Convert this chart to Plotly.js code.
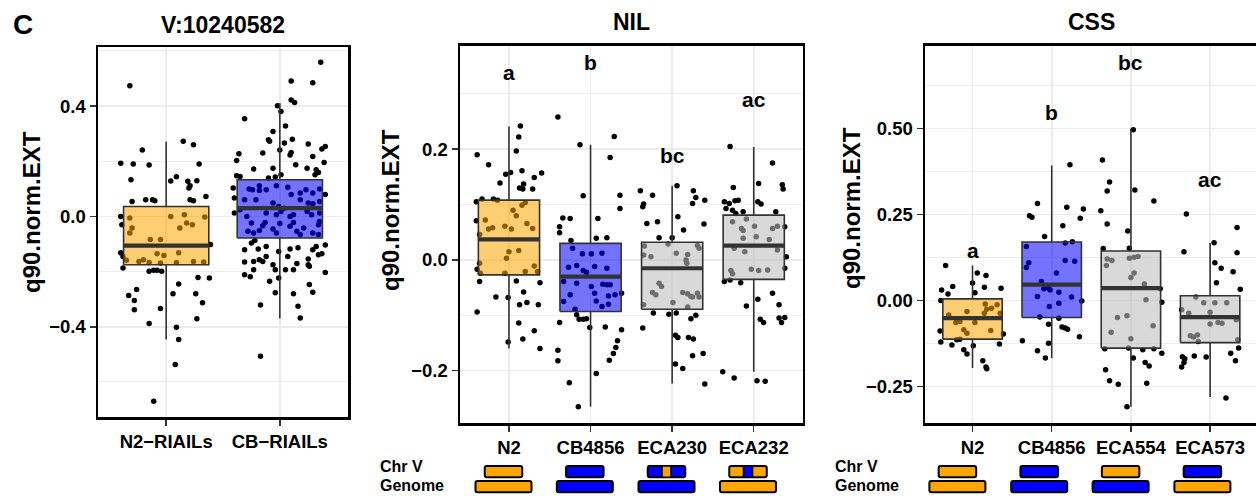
<!DOCTYPE html>
<html><head><meta charset="utf-8">
<script src="https://cdn.plot.ly/plotly-3.0.1.min.js"></script>
<style>html,body{margin:0;padding:0;background:#fff}#chart{width:1256px;height:499px}</style>
</head><body><div id="chart"></div>
<script>
// ---------------- DATA ----------------
// Panel 1: V:10240582
const p1Categories = ['N2\u2212RIAILs', 'CB\u2212RIAILs'];
const p1Genotype = ['N2', 'CB4856'];
const p1Q1 = [-0.175, -0.078];
const p1Median = [-0.106, 0.030];
const p1Q3 = [0.036, 0.133];
const p1Lower = [-0.446, -0.370];
const p1Upper = [0.271, 0.410];
const p1N2Jitter = [-0.32,-0.21,-0.40,-0.29,-0.15,-0.31,0.15,0.24,0.29,0.04,0.09,0.19,0.21,0.20,0.27,0.35,-0.30,-0.18,-0.10,-0.12,0.21,0.24,-0.40,-0.32,0.04,0.16,0.34,-0.39,-0.30,0.12,0.18,0.23,-0.32,-0.14,-0.05,0.39,-0.40,-0.38,-0.08,-0.02,0.11,-0.35,-0.24,-0.20,-0.15,-0.05,0.09,0.24,0.33,-0.38,-0.15,-0.11,-0.08,-0.04,0.28,0.38,0.11,-0.33,-0.26,0.06,0.26,-0.28,-0.28,-0.15,-0.05,0.32,0.27,0.09,0.11,0.08,-0.11];
const p1N2Values = [0.474,0.241,0.193,0.190,0.186,0.133,0.272,0.260,0.190,0.128,0.144,0.127,0.111,0.103,0.129,0.072,0.054,0.060,0.057,0.060,0.060,0.057,0.000,-0.006,0.000,0.006,-0.002,-0.030,-0.042,-0.042,-0.024,-0.030,-0.060,-0.084,-0.084,-0.102,-0.132,-0.145,-0.135,-0.142,-0.132,-0.159,-0.163,-0.157,-0.167,-0.169,-0.167,-0.163,-0.165,-0.187,-0.199,-0.195,-0.195,-0.199,-0.221,-0.223,-0.245,-0.287,-0.265,-0.280,-0.280,-0.305,-0.338,-0.388,-0.334,-0.313,-0.371,-0.402,-0.446,-0.537,-0.670];
const p1CBJitter = [0.36,0.10,0.29,0.10,0.13,-0.02,0.01,-0.31,0.05,-0.06,-0.10,-0.09,0.04,0.00,0.11,0.25,0.37,0.40,-0.15,-0.36,-0.38,0.09,0.10,0.29,0.14,0.39,-0.23,-0.06,0.24,0.32,0.34,0.31,-0.38,-0.35,-0.10,-0.04,0.01,-0.41,-0.40,-0.27,-0.24,-0.18,-0.18,-0.12,-0.03,0.07,0.10,0.18,0.23,0.29,0.35,0.40,-0.31,-0.21,-0.06,-0.01,0.04,0.18,0.25,0.29,0.35,-0.40,-0.35,-0.29,-0.12,-0.03,0.01,0.09,0.12,0.24,0.28,0.35,-0.25,-0.15,-0.13,0.00,0.09,0.12,0.21,0.34,0.35,-0.28,-0.23,-0.18,-0.06,-0.03,0.15,0.18,0.29,0.34,-0.25,-0.22,-0.31,-0.19,-0.12,-0.01,0.09,0.16,0.29,0.32,0.40,-0.12,-0.18,0.07,0.25,0.34,0.37,-0.31,-0.23,-0.15,-0.06,0.15,0.25,0.26,-0.23,-0.04,0.05,0.12,0.40,-0.31,-0.26,-0.09,-0.01,0.26,0.29,0.12,-0.04,-0.17,0.16,0.18,-0.17];
const p1CBValues = [0.559,0.491,0.484,0.422,0.413,0.401,0.380,0.354,0.328,0.308,0.278,0.272,0.266,0.241,0.280,0.262,0.244,0.253,0.230,0.227,0.203,0.223,0.232,0.217,0.187,0.195,0.172,0.175,0.175,0.169,0.159,0.151,0.147,0.145,0.139,0.143,0.151,0.103,0.067,0.099,0.097,0.111,0.094,0.097,0.111,0.106,0.079,0.085,0.097,0.085,0.099,0.079,0.060,0.060,0.049,0.036,0.030,0.060,0.049,0.046,0.054,0.012,0.024,0.000,0.012,0.006,0.018,0.000,0.006,0.018,0.006,0.012,-0.024,-0.034,-0.022,-0.026,-0.036,-0.022,-0.042,-0.030,-0.018,-0.054,-0.060,-0.051,-0.046,-0.060,-0.054,-0.066,-0.060,-0.066,-0.096,-0.087,-0.121,-0.118,-0.109,-0.127,-0.118,-0.114,-0.121,-0.109,-0.104,-0.145,-0.157,-0.145,-0.154,-0.139,-0.135,-0.165,-0.163,-0.163,-0.175,-0.171,-0.175,-0.181,-0.193,-0.193,-0.193,-0.193,-0.203,-0.211,-0.219,-0.235,-0.223,-0.247,-0.275,-0.280,-0.277,-0.321,-0.326,-0.368,-0.507];

// Panel 2: NIL
const nilCategories = ['N2', 'CB4856', 'ECA230', 'ECA232'];
const nilGenotype = ['N2', 'CB4856', 'NIL', 'NIL'];
const nilQ1 = [-0.027, -0.093, -0.089, -0.035];
const nilMedian = [0.037, -0.030, -0.015, 0.026];
const nilQ3 = [0.108, 0.030, 0.032, 0.081];
const nilLower = [-0.160, -0.265, -0.223, -0.202];
const nilUpper = [0.241, 0.208, 0.134, 0.204];
const nilLetters = ['a', 'b', 'bc', 'ac'];
const nilLetterY = [0.338, 0.357, 0.188, 0.289];
const nilChrBase = ['N2', 'CB4856', 'CB4856', 'N2'];
const nilChrIntrogression = [null, null, 'N2', 'CB4856'];
const nilGenome = ['N2', 'CB4856', 'CB4856', 'N2'];
const nilN2Jitter = [-0.39,-0.25,-0.11,-0.04,0.02,0.09,0.12,0.14,0.16,0.18,0.13,0.17,0.29,0.31,0.40,-0.40,-0.33,-0.19,-0.14,0.16,0.20,0.05,0.09,-0.40,-0.29,-0.20,-0.25,-0.05,0.03,0.22,0.29,-0.36,0.00,0.12,-0.36,-0.03,0.31,-0.39,-0.35,-0.05,0.20,0.35,-0.36,0.09,0.38,0.18,-0.16,-0.01,0.13,0.22,0.36,-0.39,0.12,0.31,0.17,-0.01,0.38];
const nilN2Values = [0.190,0.172,0.139,0.155,0.158,0.197,0.222,0.242,0.161,0.137,0.130,0.128,0.128,0.149,0.157,0.105,0.110,0.110,0.108,0.099,0.104,0.090,0.080,0.071,0.072,0.058,0.056,0.061,0.056,0.066,0.057,0.046,0.015,0.017,-0.006,0.003,-0.011,-0.017,-0.024,-0.024,-0.021,-0.021,-0.039,-0.038,-0.041,-0.058,-0.067,-0.068,-0.081,-0.077,-0.081,-0.094,-0.114,-0.128,-0.143,-0.148,-0.160];
const nilCBJitter = [-0.40,-0.13,0.29,0.24,-0.09,0.36,0.36,-0.34,-0.25,0.09,-0.38,-0.38,-0.24,0.07,0.20,-0.22,-0.10,0.01,0.14,-0.27,-0.17,-0.09,-0.05,0.05,0.20,-0.33,-0.17,0.01,0.15,0.20,0.24,0.38,-0.25,0.05,0.22,0.30,-0.33,-0.19,0.07,0.22,0.14,-0.17,-0.14,-0.09,-0.05,-0.38,-0.01,0.18,0.38,0.33,0.31,0.28,0.23,-0.40,-0.40,0.07,-0.26,-0.15];
const nilCBValues = [0.258,0.208,0.223,0.185,0.116,0.117,0.093,0.076,0.075,0.075,0.060,0.049,0.035,0.039,0.040,0.021,0.011,0.011,0.012,-0.013,-0.010,-0.019,-0.022,-0.012,-0.015,-0.039,-0.042,-0.048,-0.044,-0.045,-0.045,-0.060,-0.063,-0.060,-0.065,-0.063,-0.075,-0.089,-0.074,-0.080,-0.084,-0.099,-0.107,-0.107,-0.106,-0.113,-0.122,-0.121,-0.126,-0.146,-0.158,-0.169,-0.181,-0.163,-0.182,-0.205,-0.222,-0.265];
const nilECA230Jitter = [0.06,-0.39,-0.24,0.26,0.29,0.40,0.25,-0.35,-0.36,0.07,-0.31,-0.18,0.39,0.14,-0.16,0.00,-0.34,-0.05,0.05,0.19,0.31,0.33,-0.35,-0.26,0.17,0.18,-0.16,-0.13,-0.24,-0.20,0.13,0.19,0.23,0.31,0.25,0.01,-0.35,0.33,0.19,-0.23,-0.04,0.05,0.23,0.29,-0.36,0.04,0.07,0.20,0.26,0.25,0.38,0.04,0.13,0.40];
const nilECA230Values = [0.134,0.125,0.117,0.125,0.113,0.108,0.102,0.101,0.096,0.078,0.066,0.069,0.065,0.054,0.040,0.040,0.025,0.029,0.012,0.010,0.026,0.021,0.009,0.006,0.000,-0.006,-0.042,-0.048,-0.059,-0.063,-0.059,-0.061,-0.066,-0.060,-0.067,-0.077,-0.081,-0.067,-0.085,-0.096,-0.098,-0.096,-0.106,-0.100,-0.123,-0.136,-0.140,-0.140,-0.143,-0.173,-0.169,-0.188,-0.196,-0.224];
const nilECA232Jitter = [-0.29,-0.25,0.06,0.23,0.35,0.36,-0.36,-0.30,-0.23,-0.19,0.05,0.09,-0.34,-0.26,-0.22,-0.13,0.27,-0.26,-0.09,-0.15,-0.13,0.01,0.23,0.29,0.38,-0.13,0.03,0.19,-0.24,-0.11,0.29,0.40,-0.28,-0.26,-0.03,0.06,0.17,0.38,-0.36,-0.29,-0.16,0.23,0.05,-0.09,0.31,0.38,0.08,0.12,0.31,0.34,-0.38,-0.24,0.04,0.14];
const nilECA232Values = [0.205,0.131,0.138,0.175,0.136,0.128,0.105,0.102,0.107,0.108,0.105,0.101,0.093,0.090,0.084,0.087,0.087,0.069,0.074,0.057,0.053,0.061,0.057,0.061,0.060,0.039,0.042,0.037,0.021,0.015,0.018,0.006,-0.019,-0.025,-0.017,-0.019,-0.018,-0.015,-0.039,-0.036,-0.041,-0.060,-0.071,-0.083,-0.081,-0.104,-0.107,-0.113,-0.105,-0.113,-0.202,-0.213,-0.218,-0.219];

// Panel 3: CSS
const cssCategories = ['N2', 'CB4856', 'ECA554', 'ECA573'];
const cssGenotype = ['N2', 'CB4856', 'CSS', 'CSS'];
const cssQ1 = [-0.112, -0.049, -0.138, -0.122];
const cssMedian = [-0.051, 0.046, 0.036, -0.048];
const cssQ3 = [0.005, 0.170, 0.144, 0.014];
const cssLower = [-0.196, -0.167, -0.308, -0.280];
const cssUpper = [0.102, 0.392, 0.498, 0.167];
const cssLetters = ['a', 'b', 'bc', 'ac'];
const cssLetterY = [0.144, 0.545, 0.690, 0.351];
const cssChr = ['N2', 'CB4856', 'N2', 'CB4856'];
const cssGenome = ['N2', 'CB4856', 'CB4856', 'N2'];
const cssN2Jitter = [-0.34,0.06,0.17,-0.39,-0.31,-0.25,0.00,0.03,0.15,0.36,-0.40,-0.07,0.16,0.18,0.15,0.24,0.31,0.35,-0.30,-0.21,-0.16,0.03,-0.41,-0.11,-0.07,0.23,-0.40,-0.26,-0.20,-0.16,0.34,0.39,0.01,-0.11,-0.07,0.13,0.17,0.18];
const cssN2Values = [0.102,0.080,0.073,0.031,0.019,0.041,0.051,0.023,0.039,0.036,0.000,-0.032,-0.010,-0.025,-0.037,-0.022,-0.012,-0.037,-0.042,-0.064,-0.061,-0.064,-0.088,-0.085,-0.095,-0.087,-0.120,-0.129,-0.114,-0.112,-0.126,-0.097,-0.131,-0.143,-0.155,-0.175,-0.193,-0.198];
const cssCBJitter = [0.23,-0.18,-0.28,-0.25,0.19,0.40,0.36,0.14,-0.09,0.26,-0.32,-0.29,-0.32,0.17,0.17,0.29,0.06,-0.13,-0.10,-0.04,0.09,-0.18,0.25,-0.02,0.38,-0.03,0.09,-0.15,0.09,-0.04,0.13,0.17,0.20,-0.37,-0.04,0.35,-0.18,-0.08];
const cssCBValues = [0.394,0.282,0.246,0.242,0.271,0.266,0.239,0.217,0.186,0.171,0.157,0.110,0.096,0.167,0.116,0.114,0.080,0.055,0.034,0.036,0.024,0.012,0.010,0.031,-0.001,-0.017,-0.008,-0.048,-0.051,-0.069,-0.077,-0.080,-0.083,-0.117,-0.124,-0.105,-0.146,-0.167];
const cssECA554Jitter = [0.03,-0.36,-0.27,-0.30,0.05,0.29,-0.38,-0.30,-0.04,-0.35,-0.02,-0.30,-0.24,-0.02,0.04,0.09,-0.31,0.04,0.00,0.17,0.37,0.19,0.39,-0.17,-0.05,0.28,-0.25,0.00,-0.33,-0.03,0.15,0.29,0.39,0.03,0.18,0.23,-0.32,-0.27,-0.16,0.20,-0.05];
const cssECA554Values = [0.496,0.408,0.344,0.318,0.321,0.289,0.261,0.222,0.202,0.151,0.152,0.121,0.116,0.123,0.126,0.128,0.102,0.080,0.067,0.048,0.034,0.002,-0.005,-0.049,-0.044,-0.073,-0.092,-0.111,-0.140,-0.138,-0.143,-0.140,-0.153,-0.167,-0.180,-0.190,-0.201,-0.233,-0.243,-0.240,-0.308];
const cssECA573Jitter = [-0.30,-0.33,0.05,0.06,0.14,0.34,0.34,0.29,0.08,0.38,-0.36,-0.27,-0.18,-0.08,0.00,0.06,0.21,0.33,0.35,-0.16,-0.25,0.00,0.10,0.15,-0.21,-0.15,-0.05,-0.35,-0.32,-0.20,-0.36,-0.33,0.26,0.36,0.32,0.20];
const cssECA573Values = [0.251,0.142,0.168,0.110,0.094,0.212,0.139,0.084,0.052,0.033,-0.027,-0.037,0.010,-0.006,-0.034,-0.006,-0.006,-0.056,-0.114,-0.100,-0.102,-0.068,-0.064,-0.066,-0.106,-0.119,-0.164,-0.163,-0.169,-0.161,-0.193,-0.180,-0.153,-0.138,-0.175,-0.283];

// ---------------- STYLE / LAYOUT ----------------
const W = 1256, H = 499;
const FONT = 'Liberation Sans, Arial, Helvetica, sans-serif';
const px = x => x / W;
const py = y => 1 - y / H;
const FILL = {N2: 'rgba(255,165,0,0.55)', CB4856: 'rgba(0,0,255,0.55)', NIL: 'rgba(190,190,190,0.58)', CSS: 'rgba(190,190,190,0.58)'};
const SOLID = {N2: '#FFA500', CB4856: '#0000FF'};
const BOX_HALF = 0.375;

function panelTraces(jits, vals, q1, med, q3, lo, hi, genos, xa, ya) {
  const traces = [];
  const x = [], y = [];
  jits.forEach((arr, g) => arr.forEach((j, k) => { x.push(g + 1 + j); y.push(vals[g][k]); }));
  traces.push({type: 'scatter', mode: 'markers', x, y, xaxis: xa, yaxis: ya,
    marker: {size: 5.5, color: 'black'}, hoverinfo: 'skip', showlegend: false});
  const wx = [], wy = [];
  q1.forEach((_, i) => { const c = i + 1; wx.push(c, c, null, c, c, null); wy.push(q3[i], hi[i], null, q1[i], lo[i], null); });
  traces.push({type: 'scatter', mode: 'lines', x: wx, y: wy, xaxis: xa, yaxis: ya,
    line: {color: '#333333', width: 1.6}, hoverinfo: 'skip', showlegend: false});
  q1.forEach((_, i) => {
    const c = i + 1;
    traces.push({type: 'scatter', mode: 'lines', xaxis: xa, yaxis: ya,
      x: [c - BOX_HALF, c + BOX_HALF, c + BOX_HALF, c - BOX_HALF, c - BOX_HALF],
      y: [q1[i], q1[i], q3[i], q3[i], q1[i]],
      fill: 'toself', fillcolor: FILL[genos[i]], line: {color: '#333333', width: 1.6},
      hoverinfo: 'skip', showlegend: false});
  });
  const mx = [], my = [];
  med.forEach((m, i) => { const c = i + 1; mx.push(c - BOX_HALF, c + BOX_HALF, null); my.push(m, m, null); });
  traces.push({type: 'scatter', mode: 'lines', x: mx, y: my, xaxis: xa, yaxis: ya,
    line: {color: '#333333', width: 4.2}, hoverinfo: 'skip', showlegend: false});
  return traces;
}

const data = [].concat(
  panelTraces([p1N2Jitter, p1CBJitter], [p1N2Values, p1CBValues], p1Q1, p1Median, p1Q3, p1Lower, p1Upper, p1Genotype, 'x', 'y'),
  panelTraces([nilN2Jitter, nilCBJitter, nilECA230Jitter, nilECA232Jitter], [nilN2Values, nilCBValues, nilECA230Values, nilECA232Values], nilQ1, nilMedian, nilQ3, nilLower, nilUpper, nilGenotype, 'x2', 'y2'),
  panelTraces([cssN2Jitter, cssCBJitter, cssECA554Jitter, cssECA573Jitter], [cssN2Values, cssCBValues, cssECA554Values, cssECA573Values], cssQ1, cssMedian, cssQ3, cssLower, cssUpper, cssGenotype, 'x3', 'y3')
);

const tickFont = {family: FONT, size: 18.5, color: 'black', weight: 'bold'};
function xAxis(domain, cats, range, anchor) {
  return {domain, anchor, range, tickvals: cats.map((_, i) => i + 1), ticktext: cats,
    showgrid: true, gridcolor: '#EBEBEB', gridwidth: 1.6, zeroline: false,
    showline: true, linecolor: 'black', linewidth: 2.5, mirror: true,
    ticks: 'outside', ticklen: 6, tickwidth: 1.5, tickcolor: '#333333', tickfont: tickFont, fixedrange: true};
}
function yAxis(domain, range, dtick, fmt, anchor, mirror) {
  return {domain, anchor, range, tick0: 0, dtick, tickformat: fmt,
    showgrid: true, gridcolor: '#EBEBEB', gridwidth: 1.6, zeroline: false,
    minor: {dtick: dtick / 2, tick0: 0, showgrid: true, gridcolor: '#EBEBEB', gridwidth: 0.9, ticks: ''},
    showline: true, linecolor: 'black', linewidth: 2.5, mirror,
    ticks: 'outside', ticklen: 6, tickwidth: 1.5, tickcolor: '#333333', tickfont: tickFont, fixedrange: true};
}

const annotations = [];
const bold = (size) => ({family: FONT, size, color: 'black', weight: 'bold'});
function ann(text, x, y, size, extra) {
  annotations.push(Object.assign({text, x, y, xref: 'paper', yref: 'paper', showarrow: false,
    xanchor: 'center', yanchor: 'middle', font: bold(size)}, extra || {}));
}
ann('C', px(22.5), py(24), 28);
ann('V:10240582', px(223), py(25), 23);
ann('NIL', px(631.5), py(21.7), 23);
ann('CSS', px(1091.5), py(21.7), 23);
ann('q90.norm.EXT', px(31), py(212), 24, {textangle: -90});
ann('q90.norm.EXT', px(390), py(210), 24, {textangle: -90});
ann('q90.norm.EXT', px(851), py(208), 24, {textangle: -90});
ann('Chr V', px(378), py(466), 16, {xanchor: 'left'});
ann('Genome', px(378), py(485.5), 16, {xanchor: 'left'});
ann('Chr V', px(833), py(466), 16, {xanchor: 'left'});
ann('Genome', px(833), py(485.5), 16, {xanchor: 'left'});
nilLetters.forEach((t, i) => annotations.push({text: t, x: i + 1, y: nilLetterY[i], xref: 'x2', yref: 'y2',
  showarrow: false, xanchor: 'center', yanchor: 'middle', font: bold(21)}));
cssLetters.forEach((t, i) => annotations.push({text: t, x: i + 1, y: cssLetterY[i], xref: 'x3', yref: 'y3',
  showarrow: false, xanchor: 'center', yanchor: 'middle', font: bold(21)}));

// genotype bars below NIL / CSS panels (pixel layout positions)
const shapes = [];
const CHR_W = 37.5, GEN_W = 56, SEG_W = 9;
const CHR_Y = [466, 477.3], GEN_Y = [481, 492.3];
function rect(cx, w, yy, fill, lw) {
  const x0 = cx - w / 2, x1 = cx + w / 2, y0 = yy[0], y1 = yy[1], r = 2;
  const P = (x, y) => px(x) + ',' + py(y);
  const path = 'M' + P(x0 + r, y0) + ' L' + P(x1 - r, y0) + ' Q' + P(x1, y0) + ' ' + P(x1, y0 + r) +
    ' L' + P(x1, y1 - r) + ' Q' + P(x1, y1) + ' ' + P(x1 - r, y1) + ' L' + P(x0 + r, y1) +
    ' Q' + P(x0, y1) + ' ' + P(x0, y1 - r) + ' L' + P(x0, y0 + r) + ' Q' + P(x0, y0) + ' ' + P(x0 + r, y0) + ' Z';
  shapes.push({type: 'path', xref: 'paper', yref: 'paper', path, fillcolor: fill,
    line: {color: 'black', width: lw}, layer: 'above'});
}
function segRect(cx, w, yy, fill, lw) {
  shapes.push({type: 'rect', xref: 'paper', yref: 'paper', x0: px(cx - w / 2), x1: px(cx + w / 2),
    y0: py(yy[1]), y1: py(yy[0]), fillcolor: fill, line: {color: 'black', width: lw}, layer: 'above'});
}
const nilBarX = [503.5, 584.8, 666.5, 748];
nilBarX.forEach((cx, i) => {
  rect(cx, CHR_W, CHR_Y, SOLID[nilChrBase[i]], 2);
  if (nilChrIntrogression[i]) segRect(cx, SEG_W, CHR_Y, SOLID[nilChrIntrogression[i]], 1.6);
  rect(cx, GEN_W, GEN_Y, SOLID[nilGenome[i]], 2);
});
const cssBarX = [957.4, 1039.2, 1120.6, 1202.4];
cssBarX.forEach((cx, i) => {
  rect(cx, CHR_W, CHR_Y, SOLID[cssChr[i]], 2);
  rect(cx, GEN_W, GEN_Y, SOLID[cssGenome[i]], 2);
});

const yd1 = [py(417), py(47)];
const yd23 = [py(423), py(45.7)];
const layout = {
  width: W, height: H, margin: {l: 0, r: 0, t: 0, b: 0},
  paper_bgcolor: 'white', plot_bgcolor: 'white', showlegend: false,
  font: {family: FONT},
  xaxis: xAxis([px(98), px(348)], p1Categories, [0.4, 2.6], 'y'),
  yaxis: yAxis(yd1, [-0.727, 0.614], 0.4, '.1f', 'x', true),
  xaxis2: xAxis([px(460), px(802.7)], nilCategories, [0.4, 4.6], 'y2'),
  yaxis2: yAxis(yd23, [-0.2945, 0.387], 0.2, '.1f', 'x2', true),
  xaxis3: xAxis([px(925), 1], cssCategories, [0.4, 0.4 + 331 / 79.2], 'y3'),
  yaxis3: yAxis(yd23, [-0.3554, 0.7398], 0.25, '.2f', 'x3', false),
  annotations, shapes
};
Plotly.newPlot('chart', data, layout, {displayModeBar: false, staticPlot: true});
</script></body></html>
